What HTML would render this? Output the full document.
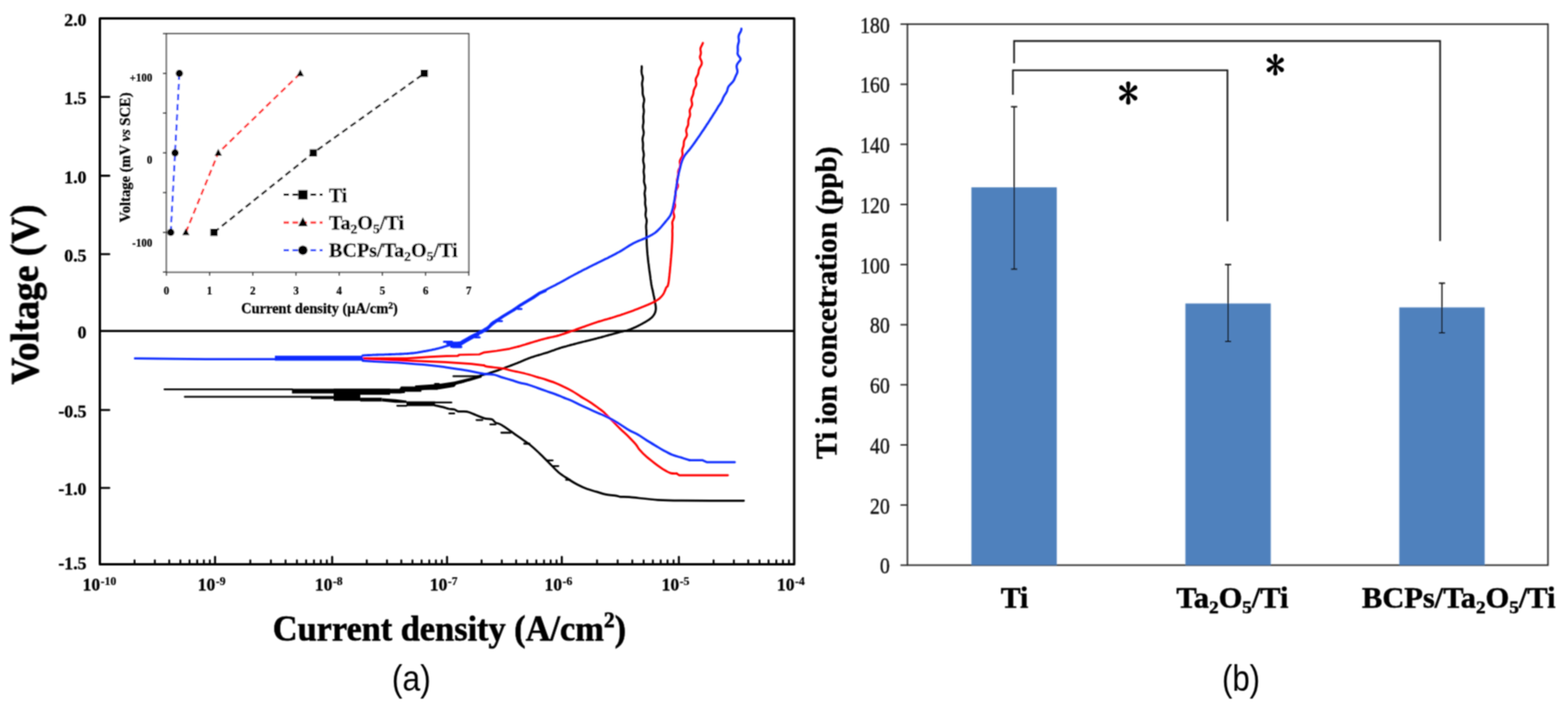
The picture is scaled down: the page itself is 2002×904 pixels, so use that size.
<!DOCTYPE html>
<html><head><meta charset="utf-8"><title>Figure</title>
<style>html,body{margin:0;padding:0;background:#fff;} body{width:2002px;height:904px;overflow:hidden;} svg{display:block;}</style>
</head><body>
<svg width="2002" height="904" viewBox="0 0 2002 904">
<defs><filter id="soft" x="0" y="0" width="2002" height="904" filterUnits="userSpaceOnUse"><feConvolveMatrix order="3" kernelMatrix="1 2 1 2 4 2 1 2 1" divisor="16" edgeMode="duplicate"/></filter></defs>
<rect width="2002" height="904" fill="#fff"/>
<g filter="url(#soft)">
<rect x="127.5" y="23.5" width="886.5" height="697.0" fill="none" stroke="#000" stroke-width="3" stroke-linejoin="round"/>
<line x1="127.5" y1="422.6" x2="1014.0" y2="422.6" stroke="#000" stroke-width="2.8"/>
<line x1="127.5" y1="123.8" x2="139.5" y2="123.8" stroke="#000" stroke-width="2.6" stroke-linecap="round"/>
<line x1="127.5" y1="224.4" x2="139.5" y2="224.4" stroke="#000" stroke-width="2.6" stroke-linecap="round"/>
<line x1="127.5" y1="324.5" x2="139.5" y2="324.5" stroke="#000" stroke-width="2.6" stroke-linecap="round"/>
<line x1="127.5" y1="523.5" x2="139.5" y2="523.5" stroke="#000" stroke-width="2.6" stroke-linecap="round"/>
<line x1="127.5" y1="623.0" x2="139.5" y2="623.0" stroke="#000" stroke-width="2.6" stroke-linecap="round"/>
<text stroke="#000" stroke-width="0.38" transform="translate(110.5,32.7) scale(0.95,1)" text-anchor="end" font-family='"Liberation Serif", "Times New Roman", serif' font-weight="bold" font-size="24">2.0</text>
<text stroke="#000" stroke-width="0.38" transform="translate(110.5,133.0) scale(0.95,1)" text-anchor="end" font-family='"Liberation Serif", "Times New Roman", serif' font-weight="bold" font-size="24">1.5</text>
<text stroke="#000" stroke-width="0.38" transform="translate(110.5,233.6) scale(0.95,1)" text-anchor="end" font-family='"Liberation Serif", "Times New Roman", serif' font-weight="bold" font-size="24">1.0</text>
<text stroke="#000" stroke-width="0.38" transform="translate(110.5,333.7) scale(0.95,1)" text-anchor="end" font-family='"Liberation Serif", "Times New Roman", serif' font-weight="bold" font-size="24">0.5</text>
<text stroke="#000" stroke-width="0.38" transform="translate(110.5,431.8) scale(0.95,1)" text-anchor="end" font-family='"Liberation Serif", "Times New Roman", serif' font-weight="bold" font-size="24">0</text>
<text stroke="#000" stroke-width="0.38" transform="translate(110.5,532.7) scale(0.95,1)" text-anchor="end" font-family='"Liberation Serif", "Times New Roman", serif' font-weight="bold" font-size="24">-0.5</text>
<text stroke="#000" stroke-width="0.38" transform="translate(110.5,632.2) scale(0.95,1)" text-anchor="end" font-family='"Liberation Serif", "Times New Roman", serif' font-weight="bold" font-size="24">-1.0</text>
<text stroke="#000" stroke-width="0.38" transform="translate(110.5,726.5) scale(0.95,1)" text-anchor="end" font-family='"Liberation Serif", "Times New Roman", serif' font-weight="bold" font-size="24">-1.5</text>
<line x1="171.8" y1="720.5" x2="171.8" y2="715.5" stroke="#000" stroke-width="2.4" stroke-linecap="round"/>
<line x1="197.7" y1="720.5" x2="197.7" y2="715.5" stroke="#000" stroke-width="2.4" stroke-linecap="round"/>
<line x1="216.1" y1="720.5" x2="216.1" y2="715.5" stroke="#000" stroke-width="2.4" stroke-linecap="round"/>
<line x1="230.3" y1="720.5" x2="230.3" y2="715.5" stroke="#000" stroke-width="2.4" stroke-linecap="round"/>
<line x1="242.0" y1="720.5" x2="242.0" y2="715.5" stroke="#000" stroke-width="2.4" stroke-linecap="round"/>
<line x1="251.8" y1="720.5" x2="251.8" y2="715.5" stroke="#000" stroke-width="2.4" stroke-linecap="round"/>
<line x1="260.3" y1="720.5" x2="260.3" y2="715.5" stroke="#000" stroke-width="2.4" stroke-linecap="round"/>
<line x1="267.9" y1="720.5" x2="267.9" y2="715.5" stroke="#000" stroke-width="2.4" stroke-linecap="round"/>
<line x1="274.6" y1="720.5" x2="274.6" y2="711.0" stroke="#000" stroke-width="2.6" stroke-linecap="round"/>
<line x1="319.6" y1="720.5" x2="319.6" y2="715.5" stroke="#000" stroke-width="2.4" stroke-linecap="round"/>
<line x1="345.9" y1="720.5" x2="345.9" y2="715.5" stroke="#000" stroke-width="2.4" stroke-linecap="round"/>
<line x1="364.6" y1="720.5" x2="364.6" y2="715.5" stroke="#000" stroke-width="2.4" stroke-linecap="round"/>
<line x1="379.1" y1="720.5" x2="379.1" y2="715.5" stroke="#000" stroke-width="2.4" stroke-linecap="round"/>
<line x1="390.9" y1="720.5" x2="390.9" y2="715.5" stroke="#000" stroke-width="2.4" stroke-linecap="round"/>
<line x1="400.9" y1="720.5" x2="400.9" y2="715.5" stroke="#000" stroke-width="2.4" stroke-linecap="round"/>
<line x1="409.6" y1="720.5" x2="409.6" y2="715.5" stroke="#000" stroke-width="2.4" stroke-linecap="round"/>
<line x1="417.3" y1="720.5" x2="417.3" y2="715.5" stroke="#000" stroke-width="2.4" stroke-linecap="round"/>
<line x1="424.1" y1="720.5" x2="424.1" y2="711.0" stroke="#000" stroke-width="2.6" stroke-linecap="round"/>
<line x1="468.3" y1="720.5" x2="468.3" y2="715.5" stroke="#000" stroke-width="2.4" stroke-linecap="round"/>
<line x1="494.1" y1="720.5" x2="494.1" y2="715.5" stroke="#000" stroke-width="2.4" stroke-linecap="round"/>
<line x1="512.4" y1="720.5" x2="512.4" y2="715.5" stroke="#000" stroke-width="2.4" stroke-linecap="round"/>
<line x1="526.6" y1="720.5" x2="526.6" y2="715.5" stroke="#000" stroke-width="2.4" stroke-linecap="round"/>
<line x1="538.3" y1="720.5" x2="538.3" y2="715.5" stroke="#000" stroke-width="2.4" stroke-linecap="round"/>
<line x1="548.1" y1="720.5" x2="548.1" y2="715.5" stroke="#000" stroke-width="2.4" stroke-linecap="round"/>
<line x1="556.6" y1="720.5" x2="556.6" y2="715.5" stroke="#000" stroke-width="2.4" stroke-linecap="round"/>
<line x1="564.1" y1="720.5" x2="564.1" y2="715.5" stroke="#000" stroke-width="2.4" stroke-linecap="round"/>
<line x1="570.8" y1="720.5" x2="570.8" y2="711.0" stroke="#000" stroke-width="2.6" stroke-linecap="round"/>
<line x1="614.9" y1="720.5" x2="614.9" y2="715.5" stroke="#000" stroke-width="2.4" stroke-linecap="round"/>
<line x1="640.7" y1="720.5" x2="640.7" y2="715.5" stroke="#000" stroke-width="2.4" stroke-linecap="round"/>
<line x1="659.0" y1="720.5" x2="659.0" y2="715.5" stroke="#000" stroke-width="2.4" stroke-linecap="round"/>
<line x1="673.2" y1="720.5" x2="673.2" y2="715.5" stroke="#000" stroke-width="2.4" stroke-linecap="round"/>
<line x1="684.8" y1="720.5" x2="684.8" y2="715.5" stroke="#000" stroke-width="2.4" stroke-linecap="round"/>
<line x1="694.6" y1="720.5" x2="694.6" y2="715.5" stroke="#000" stroke-width="2.4" stroke-linecap="round"/>
<line x1="703.1" y1="720.5" x2="703.1" y2="715.5" stroke="#000" stroke-width="2.4" stroke-linecap="round"/>
<line x1="710.6" y1="720.5" x2="710.6" y2="715.5" stroke="#000" stroke-width="2.4" stroke-linecap="round"/>
<line x1="717.3" y1="720.5" x2="717.3" y2="711.0" stroke="#000" stroke-width="2.6" stroke-linecap="round"/>
<line x1="762.3" y1="720.5" x2="762.3" y2="715.5" stroke="#000" stroke-width="2.4" stroke-linecap="round"/>
<line x1="788.6" y1="720.5" x2="788.6" y2="715.5" stroke="#000" stroke-width="2.4" stroke-linecap="round"/>
<line x1="807.3" y1="720.5" x2="807.3" y2="715.5" stroke="#000" stroke-width="2.4" stroke-linecap="round"/>
<line x1="821.8" y1="720.5" x2="821.8" y2="715.5" stroke="#000" stroke-width="2.4" stroke-linecap="round"/>
<line x1="833.6" y1="720.5" x2="833.6" y2="715.5" stroke="#000" stroke-width="2.4" stroke-linecap="round"/>
<line x1="843.6" y1="720.5" x2="843.6" y2="715.5" stroke="#000" stroke-width="2.4" stroke-linecap="round"/>
<line x1="852.3" y1="720.5" x2="852.3" y2="715.5" stroke="#000" stroke-width="2.4" stroke-linecap="round"/>
<line x1="860.0" y1="720.5" x2="860.0" y2="715.5" stroke="#000" stroke-width="2.4" stroke-linecap="round"/>
<line x1="866.8" y1="720.5" x2="866.8" y2="711.0" stroke="#000" stroke-width="2.6" stroke-linecap="round"/>
<line x1="911.1" y1="720.5" x2="911.1" y2="715.5" stroke="#000" stroke-width="2.4" stroke-linecap="round"/>
<line x1="937.0" y1="720.5" x2="937.0" y2="715.5" stroke="#000" stroke-width="2.4" stroke-linecap="round"/>
<line x1="955.4" y1="720.5" x2="955.4" y2="715.5" stroke="#000" stroke-width="2.4" stroke-linecap="round"/>
<line x1="969.7" y1="720.5" x2="969.7" y2="715.5" stroke="#000" stroke-width="2.4" stroke-linecap="round"/>
<line x1="981.3" y1="720.5" x2="981.3" y2="715.5" stroke="#000" stroke-width="2.4" stroke-linecap="round"/>
<line x1="991.2" y1="720.5" x2="991.2" y2="715.5" stroke="#000" stroke-width="2.4" stroke-linecap="round"/>
<line x1="999.7" y1="720.5" x2="999.7" y2="715.5" stroke="#000" stroke-width="2.4" stroke-linecap="round"/>
<line x1="1007.3" y1="720.5" x2="1007.3" y2="715.5" stroke="#000" stroke-width="2.4" stroke-linecap="round"/>
<text stroke="#000" stroke-width="0.38" transform="translate(127.8,754.3) scale(0.95,1)" text-anchor="end" font-family='"Liberation Serif", "Times New Roman", serif' font-weight="bold" font-size="23.5">10</text>
<text stroke="#000" stroke-width="0.24" x="128.5" y="746.5" font-family='"Liberation Serif", "Times New Roman", serif' font-weight="bold" font-size="15">-10</text>
<text stroke="#000" stroke-width="0.38" transform="translate(274.9,754.3) scale(0.95,1)" text-anchor="end" font-family='"Liberation Serif", "Times New Roman", serif' font-weight="bold" font-size="23.5">10</text>
<text stroke="#000" stroke-width="0.24" x="275.6" y="746.5" font-family='"Liberation Serif", "Times New Roman", serif' font-weight="bold" font-size="15">-9</text>
<text stroke="#000" stroke-width="0.38" transform="translate(424.4,754.3) scale(0.95,1)" text-anchor="end" font-family='"Liberation Serif", "Times New Roman", serif' font-weight="bold" font-size="23.5">10</text>
<text stroke="#000" stroke-width="0.24" x="425.1" y="746.5" font-family='"Liberation Serif", "Times New Roman", serif' font-weight="bold" font-size="15">-8</text>
<text stroke="#000" stroke-width="0.38" transform="translate(571.1,754.3) scale(0.95,1)" text-anchor="end" font-family='"Liberation Serif", "Times New Roman", serif' font-weight="bold" font-size="23.5">10</text>
<text stroke="#000" stroke-width="0.24" x="571.8" y="746.5" font-family='"Liberation Serif", "Times New Roman", serif' font-weight="bold" font-size="15">-7</text>
<text stroke="#000" stroke-width="0.38" transform="translate(717.6,754.3) scale(0.95,1)" text-anchor="end" font-family='"Liberation Serif", "Times New Roman", serif' font-weight="bold" font-size="23.5">10</text>
<text stroke="#000" stroke-width="0.24" x="718.3" y="746.5" font-family='"Liberation Serif", "Times New Roman", serif' font-weight="bold" font-size="15">-6</text>
<text stroke="#000" stroke-width="0.38" transform="translate(867.1,754.3) scale(0.95,1)" text-anchor="end" font-family='"Liberation Serif", "Times New Roman", serif' font-weight="bold" font-size="23.5">10</text>
<text stroke="#000" stroke-width="0.24" x="867.8" y="746.5" font-family='"Liberation Serif", "Times New Roman", serif' font-weight="bold" font-size="15">-5</text>
<text stroke="#000" stroke-width="0.38" transform="translate(1014.3,754.3) scale(0.95,1)" text-anchor="end" font-family='"Liberation Serif", "Times New Roman", serif' font-weight="bold" font-size="23.5">10</text>
<text stroke="#000" stroke-width="0.24" x="1015.0" y="746.5" font-family='"Liberation Serif", "Times New Roman", serif' font-weight="bold" font-size="15">-4</text>
<text stroke="#000" stroke-width="0.74" x="348.3" y="817.5" font-family='"Liberation Serif", "Times New Roman", serif' font-weight="bold" font-size="46" textLength="451" lengthAdjust="spacingAndGlyphs">Current density (A/cm<tspan font-size="29" dy="-17">2</tspan><tspan dy="17">)</tspan></text>
<text stroke="#000" stroke-width="0.8" transform="translate(48.5,491) rotate(-90)" font-family='"Liberation Serif", "Times New Roman", serif' font-weight="bold" font-size="50" textLength="230" lengthAdjust="spacingAndGlyphs">Voltage (V)</text>
<text x="500.2" y="882" font-family='"Liberation Sans", Arial, sans-serif' font-size="47" textLength="50" lengthAdjust="spacingAndGlyphs">(a)</text>
<path d="M949.7,639.3 C936.4,639.3 888.3,639.4 870.0,639.2 C851.7,639.0 851.0,639.0 839.9,638.3 C828.8,637.5 811.4,635.4 803.4,634.7 C795.4,634.0 795.0,634.6 792.1,634.3 C789.2,634.0 789.0,633.3 786.0,632.8 C783.0,632.3 777.8,632.2 773.8,631.4 C769.8,630.6 765.8,629.1 761.7,627.9 C757.7,626.7 753.6,625.8 749.5,624.3 C745.4,622.8 741.3,620.9 737.3,618.8 C733.2,616.7 729.2,614.1 725.2,611.5 C721.2,608.9 717.1,606.5 713.0,603.0 C708.9,599.5 704.8,594.8 700.8,590.8 C696.8,586.8 692.8,582.6 688.7,578.7 C684.7,574.9 680.6,571.0 676.5,567.7 C672.4,564.5 668.3,562.0 664.3,559.2 C660.2,556.4 656.2,553.5 652.2,550.7 C648.2,547.9 643.2,544.2 640.0,542.4 C636.8,540.5 634.7,540.7 632.7,539.6 C630.7,538.5 630.6,536.5 628.2,535.6 C625.8,534.7 621.8,535.1 618.3,534.1 C614.8,533.1 610.9,531.1 607.2,529.7 C603.5,528.3 599.9,526.3 596.2,525.6 C592.5,524.9 587.8,525.8 585.1,525.3 C582.4,524.8 582.0,523.2 580.0,522.7 C578.0,522.2 575.2,522.5 572.9,522.0 C570.5,521.5 568.8,520.6 565.9,519.9 C563.0,519.2 557.1,518.0 555.4,517.6" fill="none" stroke="#000" stroke-width="2.7" stroke-linejoin="round" stroke-linecap="round"/>
<polyline points="236.0,506.6 397.0,506.6" fill="none" stroke="#000" stroke-width="2.4" stroke-linejoin="round" stroke-linecap="round"/>
<polyline points="210.0,497.1 373.0,497.1" fill="none" stroke="#000" stroke-width="2.4" stroke-linejoin="round" stroke-linecap="round"/>
<rect x="372.8" y="496.4" width="137.2" height="6.0" fill="#000"/>
<rect x="397" y="505.6" width="39.0" height="4.0" fill="#000"/>
<rect x="426" y="496.4" width="34.0" height="15.4" fill="#000"/>
<rect x="460" y="496.4" width="38.0" height="7.7" fill="#000"/>
<rect x="460" y="507.8" width="27.6" height="4.8" fill="#000"/>
<polygon points="487.6,508.6 505,509.8 519,511.5 519,514.6 505,514.3 487.6,512.6" fill="#000"/>
<rect x="519" y="512.5" width="36.4" height="6.0" fill="#000"/>
<polygon points="510,496.4 512,493.6 552,493.6 556,491 560,491 562,494.5 558.9,497.8 537.9,497.8 537.9,500.3 517,500.3 517,501.7 510,502.4" fill="#000"/>
<line x1="507.1" y1="518.1" x2="519" y2="518.1" stroke="#000" stroke-width="2.3" stroke-linecap="round"/>
<line x1="555.4" y1="513.9" x2="576.4" y2="513.9" stroke="#000" stroke-width="2.3" stroke-linecap="round"/>
<line x1="573.6" y1="527.9" x2="580" y2="527.9" stroke="#000" stroke-width="2.3" stroke-linecap="round"/>
<line x1="608.3" y1="536.3" x2="616" y2="536.3" stroke="#000" stroke-width="2.3" stroke-linecap="round"/>
<line x1="626" y1="541.9" x2="632.7" y2="541.9" stroke="#000" stroke-width="2.3" stroke-linecap="round"/>
<line x1="640" y1="552.5" x2="652" y2="552.5" stroke="#000" stroke-width="2.3" stroke-linecap="round"/>
<line x1="669.2" y1="566.5" x2="676" y2="566.5" stroke="#000" stroke-width="2.3" stroke-linecap="round"/>
<line x1="698.4" y1="587.8" x2="705.7" y2="587.8" stroke="#000" stroke-width="2.3" stroke-linecap="round"/>
<line x1="705.7" y1="595.1" x2="713" y2="595.1" stroke="#000" stroke-width="2.3" stroke-linecap="round"/>
<line x1="722.7" y1="612.7" x2="727.6" y2="612.7" stroke="#000" stroke-width="2.3" stroke-linecap="round"/>
<polyline points="556.0,495.5 556.9,495.5 558.1,495.4 559.9,495.3 562.4,494.8 563.5,494.5 564.8,494.2 566.2,493.9 567.7,493.5 569.3,493.1 570.9,492.6 572.6,492.2 574.2,491.7 575.8,491.3 577.3,490.9 578.7,490.5 580.0,490.2 581.9,489.7 583.5,489.4 585.0,489.1 586.4,488.8 587.7,488.5 589.1,488.1 590.6,487.7 592.2,487.2 593.7,486.7 595.3,486.1 596.9,485.5 598.5,485.0 600.1,484.4 601.7,483.8 603.3,483.2 604.9,482.6 606.5,482.1 608.1,481.5 609.7,480.9 611.2,480.4 612.7,479.9 614.3,479.4 615.7,479.0 617.0,478.7 618.4,478.3 619.9,477.9 621.6,477.4 622.9,477.0 624.3,476.6 625.7,476.1 627.2,475.6 628.8,475.1 630.3,474.6 631.9,474.1 633.4,473.6 634.9,473.1 636.4,472.6 637.8,472.1 639.3,471.6 640.8,471.0 642.2,470.5 643.7,470.0 645.1,469.4 646.6,468.9 648.1,468.3 649.6,467.7 651.0,467.2 652.5,466.6 654.0,466.1 655.4,465.5 656.9,464.9 658.5,464.3 660.1,463.7 661.7,463.0 663.1,462.4 664.5,461.9 665.9,461.3 667.3,460.7 668.8,460.0 670.2,459.4 671.8,458.8 673.3,458.2 674.9,457.5 676.6,456.9 678.3,456.3 679.6,455.9 681.0,455.4 682.4,454.9 683.9,454.5 685.4,454.0 687.0,453.6 688.5,453.1 690.1,452.7 691.6,452.2 693.1,451.8 694.6,451.3 696.1,450.9 697.4,450.5 698.8,450.1 700.0,449.7 701.7,449.1 703.2,448.6 704.5,448.1 705.8,447.6 707.0,447.2 708.2,446.7 709.5,446.2 710.9,445.7 712.5,445.2 714.3,444.6 715.5,444.2 716.9,443.8 718.3,443.4 719.7,443.0 721.2,442.6 722.7,442.2 724.3,441.7 725.9,441.3 727.5,440.9 729.1,440.4 730.7,440.0 732.4,439.6 734.0,439.1 735.6,438.7 737.2,438.3 738.7,437.9 740.2,437.5 741.7,437.1 743.3,436.7 744.8,436.3 746.3,436.0 747.8,435.6 749.3,435.2 750.9,434.9 752.4,434.5 753.9,434.1 755.4,433.7 756.9,433.4 758.4,433.0 760.0,432.6 761.5,432.2 763.0,431.8 764.5,431.4 766.1,431.0 767.7,430.6 769.2,430.1 770.8,429.7 772.4,429.3 774.0,428.8 775.6,428.4 777.1,427.9 778.7,427.5 780.2,427.1 781.7,426.7 783.2,426.3 784.6,425.9 786.0,425.5 787.4,425.1 789.1,424.6 790.8,424.2 792.4,423.8 793.9,423.5 795.4,423.1 796.9,422.8 798.3,422.4 799.8,422.1 801.2,421.7 802.6,421.2 804.1,420.7 805.6,420.2 807.0,419.6 808.5,419.0 810.0,418.3 811.5,417.7 813.0,416.9 814.5,416.2 816.0,415.4 817.5,414.7 818.9,413.9 820.3,413.2 821.6,412.4 822.8,411.8 823.9,411.1 825.6,410.1 827.1,409.2 828.4,408.3 829.7,407.4 830.8,406.5 831.8,405.7 832.7,404.8 833.6,403.8 834.6,402.5 835.5,401.1 836.1,399.8 836.7,398.4 837.0,396.9 837.3,395.3 837.4,393.9 837.3,392.4 837.2,390.8 836.9,389.2 836.6,387.6 836.3,386.0 836.0,384.3 835.8,382.8 835.5,381.4 835.2,379.8 834.9,378.3 834.5,376.8 834.2,375.3 833.9,373.7 833.6,372.2 833.3,370.9 833.1,369.8 832.8,368.9 832.6,367.8 832.3,366.6 832.0,365.0 831.6,362.9 831.2,360.0 831.1,359.0 830.9,357.8 830.7,356.7 830.5,355.4 830.4,354.1 830.2,352.7 830.0,351.3 829.8,349.8 829.6,348.3 829.3,346.8 829.1,345.2 828.9,343.6 828.7,341.9 828.5,340.3 828.3,338.6 828.1,336.9 827.8,335.2 827.6,333.4 827.4,331.7 827.2,330.0 827.1,328.3 826.9,326.6 826.7,324.9 826.6,323.3 826.4,321.6 826.3,320.0 826.2,318.5 826.1,317.1 826.0,315.6 825.9,314.2 825.8,312.8 825.8,311.3 825.7,309.9 825.7,308.5 825.6,307.1 825.6,305.7 825.5,304.3 825.5,302.8 825.5,301.4 825.4,299.9 825.4,298.5 825.3,297.0 825.3,295.5 825.3,294.0 825.1,292.4 825.0,290.8 824.9,289.2 825.0,287.6 825.2,285.9 825.5,284.2 825.7,282.5 825.6,280.7 825.1,278.9 824.6,277.0 824.3,275.7 824.2,274.4 824.2,273.1 824.4,271.7 824.6,270.3 824.8,268.8 824.8,267.4 824.7,265.9 824.4,264.4 824.1,262.9 823.8,261.3 823.7,259.8 823.7,258.2 823.8,256.6 823.9,255.0 823.8,253.4 823.6,251.8 823.3,250.1 823.1,248.5 823.0,246.9 823.2,245.2 823.5,243.6 823.8,242.0 824.0,240.4 823.9,238.8 823.6,237.1 823.1,235.5 822.7,234.0 822.3,232.4 822.2,230.8 822.3,229.3 822.4,227.8 822.5,226.3 822.5,224.8 822.3,223.3 822.1,221.9 821.9,220.5 821.8,219.1 821.9,217.8 822.0,216.5 822.2,215.2 822.4,214.0 822.4,212.1 822.2,210.2 821.8,208.4 821.4,206.7 821.2,205.0 821.2,203.4 821.4,201.8 821.7,200.3 822.0,198.8 822.0,197.3 821.9,195.9 821.7,194.5 821.3,193.1 821.1,191.7 820.9,190.4 820.8,189.0 820.9,187.7 821.0,186.3 821.0,185.0 821.0,183.6 820.9,182.2 820.7,180.8 820.5,179.4 820.4,178.0 820.5,176.5 820.8,175.0 821.2,173.5 821.6,172.0 821.8,170.4 821.9,168.9 821.7,167.3 821.3,165.6 821.0,164.0 820.8,162.4 820.9,160.7 821.1,159.1 821.4,157.5 821.6,155.8 821.6,154.2 821.5,152.6 821.3,151.0 821.3,149.4 821.3,147.8 821.6,146.3 821.8,144.8 822.0,143.4 822.1,141.9 822.0,140.6 821.9,139.3 821.6,138.0 821.4,136.8 821.3,135.6 821.4,134.5 821.7,132.1 822.2,130.0 822.4,128.2 822.4,126.6 822.1,125.2 821.7,123.9 821.3,122.7 820.9,121.5 820.7,120.3 820.5,119.0 820.5,117.5 820.5,115.9 820.5,114.4 820.4,112.8 820.2,111.2 820.0,109.7 819.8,108.1 819.8,106.5 820.0,105.0 820.3,103.4 820.6,101.9 820.8,100.4 820.7,98.7 820.3,96.9 819.7,95.1 819.3,93.2 819.1,91.4 819.1,89.7 819.3,88.1 819.4,86.7 819.4,85.5 819.3,84.6" fill="none" stroke="#000" stroke-width="2.7" stroke-linejoin="round" stroke-linecap="round"/>
<line x1="578.8" y1="480.4" x2="611.3" y2="480.4" stroke="#000" stroke-width="2.3" stroke-linecap="round"/>
<polygon points="530,492.3 545,491.3 560,490.2 580,487.2 600,482.6 615,478.3 615,482 600,486.6 580,491.3 560,495.8 545,497.5 530,499.5" fill="#000"/>
<line x1="555.4" y1="490.1" x2="560.3" y2="490.1" stroke="#000" stroke-width="2.3" stroke-linecap="round"/>
<polygon points="558,491 580,488.6 584,489.5 580,494 560,497.2" fill="#000"/>
<polyline points="929.3,606.8 867.3,606.8 864.0,604.6" fill="none" stroke="#ff0000" stroke-width="2.7" stroke-linejoin="round" stroke-linecap="round"/>
<path d="M864.0,604.6 C862.7,604.5 859.1,604.9 856.3,604.1 C853.5,603.3 850.7,601.6 847.4,599.6 C844.1,597.6 840.1,594.6 836.4,591.9 C832.7,589.1 828.6,586.0 825.3,583.1 C822.0,580.2 818.7,576.8 816.5,574.2 C814.3,571.6 814.2,570.3 812.0,567.6 C809.8,564.9 806.5,561.5 803.2,558.2 C799.9,554.9 795.8,551.3 792.1,547.7 C788.4,544.1 784.8,540.3 781.1,536.6 C777.4,532.9 772.9,528.1 770.0,525.5 C767.1,522.9 766.7,522.9 763.8,520.8 C760.9,518.7 756.5,515.5 752.8,513.1 C749.1,510.7 745.4,508.8 741.7,506.5 C738.0,504.2 734.3,501.4 730.6,499.3 C726.9,497.2 723.3,495.4 719.6,493.7 C715.9,491.9 712.2,490.3 708.5,488.8 C704.8,487.3 701.1,486.1 697.4,484.9 C693.7,483.7 690.1,482.7 686.4,481.6 C682.7,480.5 679.0,479.3 675.3,478.3 C671.6,477.3 667.9,476.3 664.2,475.5 C660.5,474.7 656.9,474.1 653.2,473.3 C649.5,472.5 646.0,471.2 642.1,470.5 C638.2,469.8 633.7,469.5 630.0,469.0 C626.3,468.5 622.0,468.0 620.0,467.6 C618.0,467.2 618.6,466.8 618.3,466.6" fill="none" stroke="#ff0000" stroke-width="2.7" stroke-linejoin="round" stroke-linecap="round"/>
<polyline points="618.3,466.6 601.7,464.6 568.5,462.4 524.2,460.6 487.0,458.8 463.0,457.8" fill="none" stroke="#ff0000" stroke-width="2.7" stroke-linejoin="round" stroke-linecap="round"/>
<polyline points="463.0,457.6 519.5,457.6 549.4,455.6 570.0,454.6 584.2,454.5 586.5,453.0 611.9,452.5 617.4,450.2 634.0,448.0 650.6,445.3 661.7,442.5" fill="none" stroke="#ff0000" stroke-width="2.7" stroke-linejoin="round" stroke-linecap="round"/>
<polyline points="661.7,442.5 662.6,442.2 663.8,441.9 665.2,441.5 666.7,441.0 668.4,440.5 670.2,440.0 671.9,439.4 673.7,438.9 675.4,438.4 676.9,437.9 678.3,437.5 680.0,437.0 681.6,436.5 683.1,436.0 684.6,435.6 686.0,435.2 687.3,434.8 688.7,434.4 690.0,434.0 691.7,433.5 693.3,433.1 694.8,432.7 696.4,432.3 698.1,431.9 700.0,431.4 701.3,431.1 702.7,430.8 704.1,430.5 705.5,430.2 707.0,429.9 708.6,429.5 710.4,429.1 712.2,428.6 714.3,428.0 715.5,427.6 716.7,427.2 718.0,426.8 719.3,426.4 720.7,425.9 722.2,425.4 723.6,424.9 725.1,424.4 726.6,423.9 728.2,423.3 729.7,422.8 731.2,422.2 732.8,421.7 734.3,421.2 735.8,420.6 737.3,420.1 738.7,419.6 740.1,419.1 741.6,418.6 743.0,418.1 744.4,417.6 745.9,417.1 747.3,416.6 748.7,416.0 750.1,415.5 751.6,415.0 753.0,414.5 754.4,414.0 755.8,413.5 757.3,413.0 758.7,412.5 760.1,412.0 761.6,411.6 763.0,411.1 764.5,410.6 766.0,410.1 767.6,409.7 769.1,409.2 770.6,408.8 772.1,408.3 773.7,407.9 775.2,407.5 776.7,407.0 778.3,406.6 779.8,406.1 781.3,405.7 782.8,405.2 784.4,404.8 785.9,404.3 787.4,403.8 788.8,403.3 790.3,402.9 791.7,402.4 793.1,401.9 794.6,401.4 796.0,401.0 797.4,400.5 798.8,400.0 800.3,399.5 801.7,399.0 803.1,398.5 804.6,398.0 806.0,397.4 807.4,396.9 808.8,396.4 810.3,395.8 811.7,395.3 813.2,394.7 814.6,394.2 816.2,393.6 817.7,393.0 819.3,392.3 820.9,391.7 822.4,391.1 824.0,390.4 825.5,389.8 827.0,389.2 828.5,388.5 829.9,387.9 831.3,387.3 832.6,386.7 833.8,386.1 834.9,385.5 836.0,385.0 838.0,383.9 839.6,382.9 841.0,381.9 842.1,381.0 843.1,380.0 844.0,379.1 844.9,378.1 845.8,377.0 846.8,375.7 847.6,374.3 848.3,372.8 848.9,371.4 849.5,369.9 850.0,368.6 850.6,367.3 851.3,366.3 851.9,365.9 852.5,365.4 853.0,363.7 853.7,360.0 853.8,359.1 854.0,358.0 854.1,356.9 854.2,355.7 854.4,354.5 854.5,353.1 854.7,351.7 854.8,350.2 855.0,348.7 855.2,347.1 855.3,345.5 855.5,343.8 855.6,342.2 855.8,340.5 856.0,338.7 856.1,337.0 856.3,335.3 856.4,333.5 856.6,331.8 856.7,330.1 856.9,328.4 857.0,326.8 857.1,325.2 857.3,323.6 857.4,322.0 857.5,320.6 857.6,319.1 857.7,317.8 857.8,316.5 857.9,314.6 858.0,312.8 858.1,311.1 858.2,309.4 858.3,307.7 858.3,306.1 858.4,304.6 858.4,303.0 858.5,301.6 858.5,300.1 858.5,298.7 858.5,297.3 858.4,295.9 858.4,294.5 858.5,293.1 858.6,291.8 858.7,290.4 858.7,289.1 858.6,287.7 858.4,286.0 858.3,284.3 858.7,282.6 859.4,281.0 860.1,279.4 860.7,277.8 860.9,276.3 860.6,274.7 860.2,273.2 859.8,271.7 859.7,270.2 859.9,268.8 860.5,267.3 861.1,265.9 861.6,264.5 861.9,262.8 861.8,261.2 861.5,259.8 861.3,258.3 861.3,257.0 861.5,255.6 861.9,254.2 862.3,252.7 862.5,251.1 862.5,249.4 862.3,247.6 862.2,245.6 862.5,244.4 863.0,243.0 863.8,241.7 864.6,240.2 865.3,238.7 865.5,237.2 865.4,235.6 864.9,234.1 864.4,232.4 864.3,230.8 864.5,229.2 865.0,227.5 865.5,225.9 865.9,224.3 865.9,222.7 865.9,221.2 865.9,219.6 866.1,218.2 866.6,216.7 867.3,215.4 867.9,214.1 868.4,212.3 868.5,210.5 868.2,208.9 868.0,207.3 868.0,205.8 868.4,204.3 869.2,202.9 870.0,201.5 870.8,200.1 871.3,198.7 871.5,197.3 871.4,195.9 871.2,194.5 871.0,193.0 871.1,191.5 871.5,190.0 872.0,188.5 872.6,187.0 872.9,185.5 873.0,184.0 873.1,182.5 873.2,181.0 873.6,179.5 874.3,178.0 875.2,176.5 876.1,175.0 876.8,173.5 877.0,172.0 876.8,170.5 876.4,169.0 876.1,167.5 876.1,166.0 876.5,164.5 877.1,163.0 877.9,161.5 878.5,160.0 878.8,158.5 878.8,157.0 878.8,155.5 878.9,154.0 879.2,152.5 879.7,151.0 880.4,149.5 880.9,147.9 881.1,146.4 881.0,144.8 880.7,143.3 880.6,141.7 880.8,140.1 881.5,138.6 882.3,137.1 883.1,135.6 883.6,134.1 883.7,132.7 883.5,131.3 883.2,130.0 882.8,128.2 882.8,126.6 883.2,125.0 883.9,123.4 884.5,121.9 885.0,120.5 885.3,119.1 885.4,117.7 885.6,116.4 885.9,115.0 886.6,113.3 887.4,111.7 888.3,110.1 888.8,108.6 889.0,107.1 888.8,105.7 888.5,104.3 888.2,102.9 888.3,101.2 888.8,99.6 889.6,98.1 890.5,96.5 891.3,94.9 891.7,93.1 891.9,91.7 892.0,90.3 892.4,88.7 893.1,87.1 894.0,85.5 895.0,83.9 895.7,82.4 896.0,81.0 896.0,79.7 895.5,77.8 894.7,76.1 894.0,74.7 893.7,73.3 893.8,71.8 894.4,70.2 894.8,68.7 894.9,67.1 894.7,65.6 894.4,63.9 894.3,62.3 894.7,60.6 895.6,58.9 896.5,57.2 897.1,55.8 897.4,54.8" fill="none" stroke="#ff0000" stroke-width="2.7" stroke-linejoin="round" stroke-linecap="round"/>
<path d="M880.6,587.7 C878.8,587.1 873.3,585.4 869.6,584.2 C865.9,583.1 862.2,582.3 858.5,580.8 C854.8,579.3 851.1,577.3 847.4,575.3 C843.7,573.3 840.1,570.9 836.4,568.7 C832.7,566.5 829.0,564.3 825.3,562.0 C821.6,559.7 817.9,556.9 814.2,554.8 C810.5,552.7 806.9,551.4 803.2,549.3 C799.5,547.2 795.8,544.4 792.1,542.1 C788.4,539.8 784.8,537.5 781.1,535.5 C777.4,533.5 772.9,531.3 770.0,530.0 C767.1,528.7 766.7,528.8 763.8,527.5 C760.9,526.2 756.5,524.2 752.8,522.5 C749.1,520.8 745.4,519.2 741.7,517.5 C738.0,515.8 734.3,513.6 730.6,512.0 C726.9,510.4 723.3,509.1 719.6,507.6 C715.9,506.1 712.2,504.5 708.5,503.1 C704.8,501.7 701.1,500.6 697.4,499.3 C693.7,498.0 690.1,496.7 686.4,495.4 C682.7,494.1 679.0,492.6 675.3,491.5 C671.6,490.4 667.9,489.8 664.2,488.8 C660.5,487.8 656.9,486.5 653.2,485.4 C649.5,484.3 645.8,483.2 642.1,482.1 C638.4,481.0 634.8,479.3 631.1,478.5 C627.4,477.7 623.1,477.9 620.0,477.5 C616.9,477.1 617.6,477.3 612.7,476.4 C607.8,475.5 598.0,473.5 590.6,472.2 C583.2,470.9 575.9,469.8 568.5,468.8 C561.1,467.8 555.6,467.0 546.4,466.1 C537.2,465.2 522.7,464.0 513.2,463.3 C503.7,462.6 497.8,462.7 489.4,462.2 C481.0,461.7 467.4,460.8 463.0,460.5" fill="none" stroke="#0a2cff" stroke-width="2.8" stroke-linejoin="round" stroke-linecap="round"/>
<polyline points="938.1,590.2 902.7,590.2 897.2,587.7 880.6,587.7" fill="none" stroke="#0a2cff" stroke-width="2.8" stroke-linejoin="round" stroke-linecap="round"/>
<polyline points="463.0,458.5 350.0,458.6 262.6,458.6 172.3,457.7" fill="none" stroke="#0a2cff" stroke-width="2.8" stroke-linejoin="round" stroke-linecap="round"/>
<rect x="351" y="454.2" width="112.0" height="6.3" fill="#0a2cff"/>
<polyline points="463.0,454.0 463.7,453.9 464.2,453.9 464.9,453.8 466.0,453.7 467.7,453.6 470.2,453.5 473.8,453.3 474.8,453.3 475.8,453.2 477.0,453.2 478.2,453.1 479.5,453.1 480.8,453.0 482.3,453.0 483.7,452.9 485.3,452.9 486.9,452.9 488.5,452.8 490.1,452.8 491.8,452.7 493.5,452.6 495.2,452.6 497.0,452.5 498.7,452.5 500.5,452.4 502.2,452.4 503.9,452.3 505.6,452.2 507.3,452.2 509.0,452.1 510.6,452.0 512.2,452.0 513.8,451.9 515.3,451.8 516.7,451.7 518.1,451.6 519.4,451.6 520.6,451.5 521.8,451.4 524.0,451.2 526.0,451.0 527.9,450.8 529.7,450.6 531.3,450.4 532.9,450.2 534.4,449.9 535.8,449.7 537.1,449.5 538.4,449.2 539.7,449.0 540.9,448.7 542.1,448.5 543.3,448.3 544.6,448.0 545.8,447.8 547.6,447.5 549.3,447.1 551.0,446.8 552.6,446.4 554.2,446.1 555.7,445.8 557.1,445.4 558.5,445.1 559.8,444.8 561.0,444.5 562.1,444.2 564.2,443.6 565.8,443.1 567.2,442.7 568.5,442.2 570.0,441.8 571.6,441.4 573.1,441.0 574.8,440.7 576.6,440.3 578.7,439.7 579.9,439.4 581.3,439.0 582.8,438.6 584.4,438.2 586.0,437.7 587.5,437.2 589.1,436.8 590.6,436.3 591.9,435.8 593.1,435.3 594.7,434.4 596.0,433.6 597.2,432.6 598.2,431.7 599.4,430.7 600.8,429.8 602.0,429.1 603.3,428.4 604.7,427.8 606.1,427.1 607.6,426.4 609.0,425.7 610.5,424.9 611.9,424.2 613.3,423.4 614.8,422.6 616.3,421.7 617.8,420.9 619.2,420.0 620.6,419.2 621.9,418.4 623.0,417.6 624.4,416.4 625.3,415.4 626.2,414.3 627.1,413.3 628.5,412.1 629.6,411.3 630.9,410.5 632.3,409.7 633.7,408.8 635.2,408.0 636.7,407.1 638.2,406.2 639.6,405.4 641.0,404.6 642.4,403.8 643.7,403.0 645.1,402.2 646.5,401.4 647.8,400.5 649.2,399.7 650.6,398.8 651.8,398.0 653.1,397.1 654.3,396.3 655.5,395.4 656.8,394.5 658.0,393.6 659.2,392.8 660.5,391.9 661.7,391.1 663.1,390.2 664.5,389.3 665.9,388.5 667.3,387.7 668.7,386.8 670.1,386.0 671.5,385.2 672.8,384.4 674.3,383.5 675.7,382.5 677.1,381.6 678.5,380.7 679.9,379.8 681.3,378.9 682.7,378.0 684.1,377.2 685.3,376.5 686.5,375.7 687.8,375.0 689.2,374.2 690.9,373.3 693.0,372.2 694.1,371.6 695.3,371.0 696.5,370.4 697.8,369.7 699.1,369.0 700.5,368.3 702.0,367.6 703.5,366.8 705.0,366.0 706.5,365.3 708.1,364.5 709.6,363.7 711.2,362.8 712.7,362.0 714.3,361.2 715.5,360.6 716.7,359.9 717.8,359.3 719.0,358.7 720.1,358.0 721.2,357.4 722.4,356.8 723.5,356.1 724.7,355.5 725.9,354.8 727.1,354.1 728.4,353.4 729.8,352.6 731.2,351.9 732.6,351.1 734.2,350.2 735.8,349.4 737.6,348.5 739.4,347.5 740.5,346.9 741.6,346.4 742.8,345.8 744.0,345.1 745.3,344.5 746.6,343.8 748.0,343.2 749.4,342.5 750.8,341.8 752.2,341.0 753.7,340.3 755.2,339.6 756.7,338.8 758.2,338.1 759.7,337.3 761.3,336.6 762.8,335.8 764.3,335.1 765.9,334.3 767.4,333.6 768.9,332.8 770.4,332.1 771.9,331.3 773.3,330.6 774.8,329.9 776.2,329.2 777.5,328.5 778.9,327.8 780.1,327.2 781.4,326.5 782.6,325.9 783.8,325.3 784.9,324.8 785.9,324.2 787.9,323.1 789.7,322.1 791.4,321.2 793.0,320.2 794.5,319.4 795.8,318.5 797.2,317.7 798.4,316.9 799.6,316.1 800.7,315.4 801.8,314.7 802.9,314.0 804.0,313.3 805.1,312.7 806.2,312.0 807.3,311.4 808.4,310.8 810.0,310.0 811.6,309.2 813.1,308.5 814.6,307.9 816.0,307.3 817.4,306.7 818.8,306.2 820.1,305.6 821.4,305.1 822.7,304.6 824.0,304.0 825.2,303.4 826.8,302.6 828.3,301.9 829.7,301.2 831.1,300.4 832.5,299.7 833.8,298.9 835.1,298.1 836.5,297.1 837.8,296.1 838.9,295.1 840.0,294.1 841.1,293.0 842.3,291.8 843.4,290.6 844.5,289.4 845.5,288.2 846.6,286.9 847.6,285.7 848.5,284.6 849.4,283.5 850.5,282.1 851.6,280.9 852.6,279.7 853.6,278.5 854.4,277.3 855.3,276.0 856.1,274.6 856.8,273.0 857.3,271.7 857.8,270.4 858.2,269.0 858.6,267.5 859.0,266.0 859.3,264.4 859.7,262.8 860.0,261.2 860.3,259.5 860.7,257.8 861.0,256.1 861.3,254.7 861.5,253.3 861.7,251.8 862.0,250.3 862.2,248.7 862.4,247.2 862.6,245.6 862.8,244.0 863.0,242.5 863.2,240.9 863.4,239.4 863.7,237.9 863.9,236.5 864.1,235.1 864.4,233.4 864.6,231.8 864.9,230.2 865.2,228.7 865.4,227.2 865.7,225.7 866.0,224.2 866.3,222.8 866.6,221.3 866.9,219.8 867.3,218.3 867.7,216.8 868.1,215.2 868.5,213.6 868.9,212.0 869.3,210.4 869.7,208.9 870.2,207.3 870.7,205.8 871.3,204.3 871.9,202.9 872.5,201.5 873.3,200.1 874.1,198.7 875.0,197.5 875.9,196.3 876.9,195.1 877.9,193.9 878.9,192.7 880.0,191.5 881.0,190.2 882.0,188.9 882.8,187.8 883.7,186.6 884.5,185.5 885.3,184.3 886.2,183.1 887.1,181.9 887.9,180.7 888.8,179.4 889.7,178.1 890.6,176.8 891.5,175.5 892.5,174.1 893.3,173.0 894.1,171.8 894.8,170.7 895.6,169.5 896.4,168.3 897.2,167.1 898.1,165.9 898.9,164.7 899.7,163.4 900.6,162.1 901.5,160.8 902.3,159.4 903.2,158.1 904.2,156.7 905.1,155.2 905.9,154.0 906.7,152.7 907.5,151.4 908.4,150.1 909.3,148.7 910.2,147.2 911.1,145.8 912.1,144.3 913.0,142.9 913.9,141.4 914.8,140.0 915.7,138.5 916.5,137.1 917.3,135.8 918.1,134.5 919.0,133.3 919.8,132.1 920.5,131.0 921.2,130.0 922.2,127.9 922.9,126.1 923.4,124.6 924.1,123.3 924.7,122.1 925.5,121.0 926.2,119.9 927.0,118.7 927.9,117.1 928.4,115.7 928.8,114.4 929.1,113.0 929.6,111.7 930.4,110.2 931.5,108.9 932.8,107.5 934.2,106.0 935.5,104.6 936.6,103.1 937.4,101.7 937.9,100.4 938.5,98.9 939.1,97.6 939.7,96.2 940.4,94.9 941.1,93.4 941.5,91.9 941.5,90.4 941.2,88.8 940.8,87.1 940.5,85.5 940.6,83.8 941.1,82.3 941.8,81.0 943.1,79.2 944.5,77.7 945.4,76.4 945.5,74.9 944.8,73.6 943.7,72.2 942.7,70.8 941.9,69.3 941.7,67.6 941.9,66.2 942.0,64.7 942.0,63.1 941.9,61.5 941.9,59.8 942.1,58.2 942.4,56.6 942.9,55.0 943.3,53.4 943.4,51.8 943.3,50.2 943.1,48.7 943.0,47.2 943.1,45.7 943.7,44.0 944.6,42.2 945.6,40.5 946.2,38.9 946.5,37.6 946.6,36.6" fill="none" stroke="#0a2cff" stroke-width="2.8" stroke-linejoin="round" stroke-linecap="round"/>
<line x1="567" y1="436.4" x2="577" y2="436.4" stroke="#0a2cff" stroke-width="2.8" stroke-linecap="round"/>
<line x1="578" y1="443" x2="589" y2="443" stroke="#0a2cff" stroke-width="2.8" stroke-linecap="round"/>
<line x1="571" y1="438.5" x2="583" y2="438.5" stroke="#0a2cff" stroke-width="2.8" stroke-linecap="round"/>
<polygon points="575,436.2 589,436.2 596,431.5 604,427.5 612,423.5 612,428.5 604,432.5 596,437 589,441.2 588,443.9 580,443.9 575,443.9" fill="#0a2cff"/>
<polyline points="590.0,436.5 599.3,431.1 607.1,427.3 614.8,424.2 622.6,419.5 628.0,414.1 634.2,409.5 641.9,404.1 649.7,399.4 657.4,394.8 665.1,389.3 672.9,384.7 680.6,380.1 688.4,374.6 696.1,371.2" fill="none" stroke="#0a2cff" stroke-width="3.8" stroke-linejoin="round" stroke-linecap="round"/>
<line x1="661.3" y1="394.5" x2="665.9" y2="394.5" stroke="#0a2cff" stroke-width="2.4" stroke-linecap="round"/>
<line x1="634" y1="410" x2="641" y2="410" stroke="#0a2cff" stroke-width="2.4" stroke-linecap="round"/>
<line x1="607" y1="430.8" x2="612.5" y2="430.8" stroke="#0a2cff" stroke-width="2.4" stroke-linecap="round"/>
<rect x="0" y="0" width="0" height="0"/>
<rect x="212.5" y="43.0" width="386.0" height="304.5" fill="#fff" stroke="#2a2a2a" stroke-width="1.5"/>
<line x1="208.0" y1="42.9" x2="212.5" y2="42.9" stroke="#2a2a2a" stroke-width="1.3"/>
<line x1="208.0" y1="93.7" x2="212.5" y2="93.7" stroke="#2a2a2a" stroke-width="1.3"/>
<line x1="208.0" y1="144.4" x2="212.5" y2="144.4" stroke="#2a2a2a" stroke-width="1.3"/>
<line x1="208.0" y1="195.2" x2="212.5" y2="195.2" stroke="#2a2a2a" stroke-width="1.3"/>
<line x1="208.0" y1="245.9" x2="212.5" y2="245.9" stroke="#2a2a2a" stroke-width="1.3"/>
<line x1="208.0" y1="296.7" x2="212.5" y2="296.7" stroke="#2a2a2a" stroke-width="1.3"/>
<line x1="208.0" y1="347.4" x2="212.5" y2="347.4" stroke="#2a2a2a" stroke-width="1.3"/>
<line x1="212.5" y1="347.5" x2="212.5" y2="352.0" stroke="#2a2a2a" stroke-width="1.3"/>
<text stroke="#000" stroke-width="0.22" x="212.5" y="375.5" text-anchor="middle" font-family='"Liberation Serif", "Times New Roman", serif' font-weight="bold" font-size="14">0</text>
<line x1="267.6" y1="347.5" x2="267.6" y2="352.0" stroke="#2a2a2a" stroke-width="1.3"/>
<text stroke="#000" stroke-width="0.22" x="267.6" y="375.5" text-anchor="middle" font-family='"Liberation Serif", "Times New Roman", serif' font-weight="bold" font-size="14">1</text>
<line x1="322.8" y1="347.5" x2="322.8" y2="352.0" stroke="#2a2a2a" stroke-width="1.3"/>
<text stroke="#000" stroke-width="0.22" x="322.8" y="375.5" text-anchor="middle" font-family='"Liberation Serif", "Times New Roman", serif' font-weight="bold" font-size="14">2</text>
<line x1="377.9" y1="347.5" x2="377.9" y2="352.0" stroke="#2a2a2a" stroke-width="1.3"/>
<text stroke="#000" stroke-width="0.22" x="377.9" y="375.5" text-anchor="middle" font-family='"Liberation Serif", "Times New Roman", serif' font-weight="bold" font-size="14">3</text>
<line x1="433.1" y1="347.5" x2="433.1" y2="352.0" stroke="#2a2a2a" stroke-width="1.3"/>
<text stroke="#000" stroke-width="0.22" x="433.1" y="375.5" text-anchor="middle" font-family='"Liberation Serif", "Times New Roman", serif' font-weight="bold" font-size="14">4</text>
<line x1="488.2" y1="347.5" x2="488.2" y2="352.0" stroke="#2a2a2a" stroke-width="1.3"/>
<text stroke="#000" stroke-width="0.22" x="488.2" y="375.5" text-anchor="middle" font-family='"Liberation Serif", "Times New Roman", serif' font-weight="bold" font-size="14">5</text>
<line x1="543.4" y1="347.5" x2="543.4" y2="352.0" stroke="#2a2a2a" stroke-width="1.3"/>
<text stroke="#000" stroke-width="0.22" x="543.4" y="375.5" text-anchor="middle" font-family='"Liberation Serif", "Times New Roman", serif' font-weight="bold" font-size="14">6</text>
<line x1="598.5" y1="347.5" x2="598.5" y2="352.0" stroke="#2a2a2a" stroke-width="1.3"/>
<text stroke="#000" stroke-width="0.22" x="598.5" y="375.5" text-anchor="middle" font-family='"Liberation Serif", "Times New Roman", serif' font-weight="bold" font-size="14">7</text>
<text stroke="#000" stroke-width="0.22" x="194.5" y="104.2" text-anchor="end" font-family='"Liberation Serif", "Times New Roman", serif' font-weight="bold" font-size="14">+100</text>
<text stroke="#000" stroke-width="0.22" x="194.5" y="209.4" text-anchor="end" font-family='"Liberation Serif", "Times New Roman", serif' font-weight="bold" font-size="14">0</text>
<text stroke="#000" stroke-width="0.22" x="194.5" y="315" text-anchor="end" font-family='"Liberation Serif", "Times New Roman", serif' font-weight="bold" font-size="14">-100</text>
<text stroke="#000" stroke-width="0.29" x="308" y="399.5" font-family='"Liberation Serif", "Times New Roman", serif' font-weight="bold" font-size="18" textLength="200" lengthAdjust="spacingAndGlyphs">Current density (µA/cm<tspan font-size="12" dy="-6">2</tspan><tspan dy="6">)</tspan></text>
<text stroke="#000" stroke-width="0.29" transform="translate(166.3,284) rotate(-90)" font-family='"Liberation Serif", "Times New Roman", serif' font-weight="bold" font-size="18" textLength="166" lengthAdjust="spacingAndGlyphs">Voltage (mV <tspan font-style="italic">vs</tspan> SCE)</text>
<polyline points="273.2,296.7 400.0,195.2 541.7,93.7" fill="none" stroke="#000" stroke-width="2.5" stroke-dasharray="8 5"/>
<polyline points="237.3,296.7 278.7,195.2 383.4,93.7" fill="none" stroke="#ff1a1a" stroke-width="2.5" stroke-dasharray="8 5"/>
<polyline points="218.0,296.7 223.5,195.2 229.0,93.7" fill="none" stroke="#1a3cff" stroke-width="2.5" stroke-dasharray="8 5"/>
<rect x="268.6" y="292.1" width="9.2" height="9.2" fill="#000"/>
<rect x="395.4" y="190.6" width="9.2" height="9.2" fill="#000"/>
<rect x="537.1" y="89.1" width="9.2" height="9.2" fill="#000"/>
<polygon points="237.3,291.5 241.9,300.2 232.7,300.2" fill="#000"/>
<polygon points="278.7,190.0 283.3,198.7 274.1,198.7" fill="#000"/>
<polygon points="383.4,88.5 388.0,97.2 378.8,97.2" fill="#000"/>
<circle cx="218.0" cy="296.7" r="4.6" fill="#000"/>
<circle cx="223.5" cy="195.2" r="4.6" fill="#000"/>
<circle cx="229.0" cy="93.7" r="4.6" fill="#000"/>
<line x1="362" y1="248.7" x2="412" y2="248.7" stroke="#000" stroke-width="2.7" stroke-dasharray="7 4.5"/>
<rect x="380.7" y="242.7" width="12" height="12" fill="#000"/>
<line x1="362" y1="284.1" x2="412" y2="284.1" stroke="#ff1a1a" stroke-width="2.7" stroke-dasharray="7 4.5"/>
<polygon points="386.7,277.3 392.7,288.7 380.7,288.7" fill="#000"/>
<line x1="362" y1="319.5" x2="412" y2="319.5" stroke="#1a3cff" stroke-width="2.7" stroke-dasharray="7 4.5"/>
<circle cx="386.7" cy="319.5" r="6.0" fill="#000"/>
<text stroke="#000" stroke-width="0.4" x="420" y="257.5" font-family='"Liberation Serif", "Times New Roman", serif' font-weight="bold" font-size="25">Ti</text>
<text stroke="#000" stroke-width="0.4" x="420" y="292.5" font-family='"Liberation Serif", "Times New Roman", serif' font-weight="bold" font-size="25" textLength="96" lengthAdjust="spacingAndGlyphs">Ta<tspan font-size="17" dy="5">2</tspan><tspan dy="-5">O</tspan><tspan font-size="17" dy="5">5</tspan><tspan dy="-5">/Ti</tspan></text>
<text stroke="#000" stroke-width="0.4" x="420" y="328" font-family='"Liberation Serif", "Times New Roman", serif' font-weight="bold" font-size="25" textLength="164.5" lengthAdjust="spacingAndGlyphs">BCPs/Ta<tspan font-size="17" dy="5">2</tspan><tspan dy="-5">O</tspan><tspan font-size="17" dy="5">5</tspan><tspan dy="-5">/Ti</tspan></text>
<rect x="1158.6" y="30.8" width="817.8000000000002" height="690.8000000000001" fill="none" stroke="#262626" stroke-width="1.9"/>
<line x1="1149.7" y1="721.6" x2="1158.6" y2="721.6" stroke="#262626" stroke-width="1.8"/>
<text transform="translate(1136,732.4) scale(0.87,1)" text-anchor="end" font-family='"Liberation Serif", "Times New Roman", serif' font-size="29" fill="#111" stroke="#111" stroke-width="0.45">0</text>
<line x1="1149.7" y1="644.8" x2="1158.6" y2="644.8" stroke="#262626" stroke-width="1.8"/>
<text transform="translate(1136,655.6) scale(0.87,1)" text-anchor="end" font-family='"Liberation Serif", "Times New Roman", serif' font-size="29" fill="#111" stroke="#111" stroke-width="0.45">20</text>
<line x1="1149.7" y1="568.1" x2="1158.6" y2="568.1" stroke="#262626" stroke-width="1.8"/>
<text transform="translate(1136,578.9) scale(0.87,1)" text-anchor="end" font-family='"Liberation Serif", "Times New Roman", serif' font-size="29" fill="#111" stroke="#111" stroke-width="0.45">40</text>
<line x1="1149.7" y1="491.3" x2="1158.6" y2="491.3" stroke="#262626" stroke-width="1.8"/>
<text transform="translate(1136,502.1) scale(0.87,1)" text-anchor="end" font-family='"Liberation Serif", "Times New Roman", serif' font-size="29" fill="#111" stroke="#111" stroke-width="0.45">60</text>
<line x1="1149.7" y1="414.6" x2="1158.6" y2="414.6" stroke="#262626" stroke-width="1.8"/>
<text transform="translate(1136,425.4) scale(0.87,1)" text-anchor="end" font-family='"Liberation Serif", "Times New Roman", serif' font-size="29" fill="#111" stroke="#111" stroke-width="0.45">80</text>
<line x1="1149.7" y1="337.8" x2="1158.6" y2="337.8" stroke="#262626" stroke-width="1.8"/>
<text transform="translate(1136,348.6) scale(0.87,1)" text-anchor="end" font-family='"Liberation Serif", "Times New Roman", serif' font-size="29" fill="#111" stroke="#111" stroke-width="0.45">100</text>
<line x1="1149.7" y1="261.1" x2="1158.6" y2="261.1" stroke="#262626" stroke-width="1.8"/>
<text transform="translate(1136,271.9) scale(0.87,1)" text-anchor="end" font-family='"Liberation Serif", "Times New Roman", serif' font-size="29" fill="#111" stroke="#111" stroke-width="0.45">120</text>
<line x1="1149.7" y1="184.3" x2="1158.6" y2="184.3" stroke="#262626" stroke-width="1.8"/>
<text transform="translate(1136,195.1) scale(0.87,1)" text-anchor="end" font-family='"Liberation Serif", "Times New Roman", serif' font-size="29" fill="#111" stroke="#111" stroke-width="0.45">140</text>
<line x1="1149.7" y1="107.6" x2="1158.6" y2="107.6" stroke="#262626" stroke-width="1.8"/>
<text transform="translate(1136,118.4) scale(0.87,1)" text-anchor="end" font-family='"Liberation Serif", "Times New Roman", serif' font-size="29" fill="#111" stroke="#111" stroke-width="0.45">160</text>
<line x1="1149.7" y1="30.8" x2="1158.6" y2="30.8" stroke="#262626" stroke-width="1.8"/>
<text transform="translate(1136,41.6) scale(0.87,1)" text-anchor="end" font-family='"Liberation Serif", "Times New Roman", serif' font-size="29" fill="#111" stroke="#111" stroke-width="0.45">180</text>
<rect x="1240.3" y="239.2" width="109" height="482.4" fill="#4f81bd"/>
<rect x="1513.5" y="387.5" width="109" height="334.1" fill="#4f81bd"/>
<rect x="1786.6" y="392.5" width="109" height="329.1" fill="#4f81bd"/>
<line x1="1294.8" y1="136.3" x2="1294.8" y2="343.6" stroke="#111" stroke-width="1.6"/>
<line x1="1290.8" y1="136.3" x2="1298.8" y2="136.3" stroke="#111" stroke-width="1.8"/>
<line x1="1290.8" y1="343.6" x2="1298.8" y2="343.6" stroke="#111" stroke-width="1.8"/>
<line x1="1568.0" y1="337.8" x2="1568.0" y2="435.9" stroke="#111" stroke-width="1.6"/>
<line x1="1564.0" y1="337.8" x2="1572.0" y2="337.8" stroke="#111" stroke-width="1.8"/>
<line x1="1564.0" y1="435.9" x2="1572.0" y2="435.9" stroke="#111" stroke-width="1.8"/>
<line x1="1841.1" y1="361.6" x2="1841.1" y2="424.9" stroke="#111" stroke-width="1.6"/>
<line x1="1837.1" y1="361.6" x2="1845.1" y2="361.6" stroke="#111" stroke-width="1.8"/>
<line x1="1837.1" y1="424.9" x2="1845.1" y2="424.9" stroke="#111" stroke-width="1.8"/>
<path d="M1293.3,121.1 V89.7 H1567.2 V282.4" fill="none" stroke="#161616" stroke-width="2.1"/>
<path d="M1294.8,80.8 V52.4 H1838.7 V307.8" fill="none" stroke="#161616" stroke-width="2.1"/>
<text transform="translate(1440.6,139.6) scale(0.95,1)" text-anchor="middle" font-family='"IPAGothic", "Liberation Serif", sans-serif' font-size="56" stroke="#000" stroke-width="1">*</text>
<text transform="translate(1628.3,103.0) scale(0.95,1)" text-anchor="middle" font-family='"IPAGothic", "Liberation Serif", sans-serif' font-size="53" stroke="#000" stroke-width="1">*</text>
<text stroke="#000" stroke-width="0.61" x="1295.3" y="776" text-anchor="middle" font-family='"Liberation Serif", "Times New Roman", serif' font-weight="bold" font-size="38">Ti</text>
<text stroke="#000" stroke-width="0.61" x="1502" y="776" font-family='"Liberation Serif", "Times New Roman", serif' font-weight="bold" font-size="38" textLength="143" lengthAdjust="spacingAndGlyphs">Ta<tspan font-size="24" dy="7">2</tspan><tspan dy="-7">O</tspan><tspan font-size="24" dy="7">5</tspan><tspan dy="-7">/Ti</tspan></text>
<text stroke="#000" stroke-width="0.61" x="1739" y="776" font-family='"Liberation Serif", "Times New Roman", serif' font-weight="bold" font-size="38" textLength="247" lengthAdjust="spacingAndGlyphs">BCPs/Ta<tspan font-size="24" dy="7">2</tspan><tspan dy="-7">O</tspan><tspan font-size="24" dy="7">5</tspan><tspan dy="-7">/Ti</tspan></text>
<text stroke="#000" stroke-width="0.61" transform="translate(1068.3,586) rotate(-90)" font-family='"Liberation Serif", "Times New Roman", serif' font-weight="bold" font-size="38" textLength="399" lengthAdjust="spacingAndGlyphs">Ti ion concetration (ppb)</text>
<text x="1560.2" y="882" font-family='"Liberation Sans", Arial, sans-serif' font-size="47" textLength="48.6" lengthAdjust="spacingAndGlyphs">(b)</text>
</g>
</svg>
</body></html>
